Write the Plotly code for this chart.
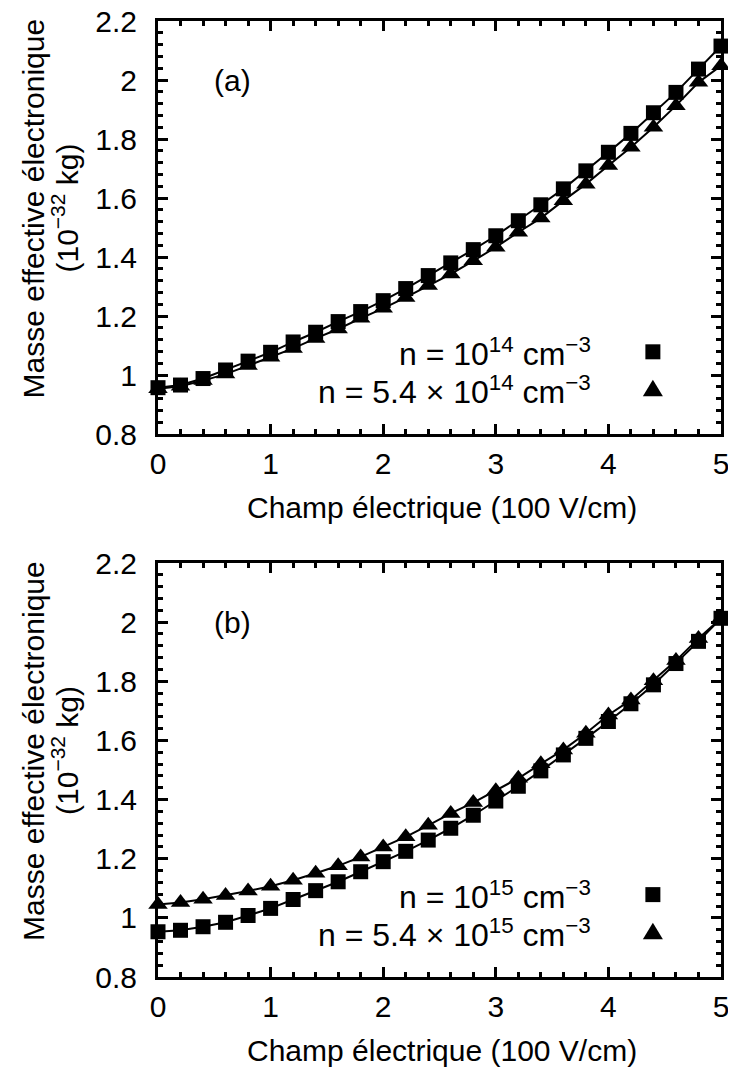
import plotly.graph_objects as go

# ---------------- data ----------------
field = [0.0, 0.2, 0.4, 0.6, 0.8, 1.0, 1.2, 1.4, 1.6, 1.8, 2.0, 2.2, 2.4,
         2.6, 2.8, 3.0, 3.2, 3.4, 3.6, 3.8, 4.0, 4.2, 4.4, 4.6, 4.8, 5.0]

mass_a_n1e14 = [0.957, 0.966, 0.988, 1.017, 1.047, 1.077, 1.112, 1.145, 1.181,
                1.215, 1.252, 1.293, 1.337, 1.380, 1.425, 1.472, 1.523, 1.577,
                1.631, 1.692, 1.755, 1.819, 1.889, 1.958, 2.037, 2.115]
mass_a_n54e14 = [0.953, 0.962, 0.981, 1.003, 1.032, 1.060, 1.090, 1.124, 1.156,
                 1.192, 1.226, 1.263, 1.303, 1.342, 1.387, 1.433, 1.484, 1.532,
                 1.591, 1.647, 1.710, 1.772, 1.840, 1.913, 1.992, 2.048]

mass_b_n1e15 = [0.953, 0.958, 0.970, 0.985, 1.008, 1.032, 1.062, 1.092, 1.122,
                1.156, 1.190, 1.225, 1.263, 1.303, 1.347, 1.395, 1.445, 1.497,
                1.551, 1.607, 1.664, 1.724, 1.788, 1.860, 1.935, 2.013]
mass_b_n54e15 = [1.045, 1.052, 1.063, 1.076, 1.091, 1.107, 1.127, 1.151, 1.176,
                 1.206, 1.240, 1.274, 1.313, 1.353, 1.390, 1.430, 1.472, 1.521,
                 1.568, 1.624, 1.686, 1.737, 1.802, 1.870, 1.945, 2.013]

x_tick_vals = [0, 1, 2, 3, 4, 5]
y_tick_vals = [0.8, 1.0, 1.2, 1.4, 1.6, 1.8, 2.0, 2.2]
y_tick_text = ["0.8", "1", "1.2", "1.4", "1.6", "1.8", "2", "2.2"]

panel_labels = ["(a)", "(b)"]
legend_a = ["n = 10<sup>14</sup> cm<sup>\u22123</sup>",
            "n = 5.4 \u00d7 10<sup>14</sup> cm<sup>\u22123</sup>"]
legend_b = ["n = 10<sup>15</sup> cm<sup>\u22123</sup>",
            "n = 5.4 \u00d7 10<sup>15</sup> cm<sup>\u22123</sup>"]
x_title = "Champ \u00e9lectrique (100 V/cm)"
y_title_1 = "Masse effective \u00e9lectronique"
y_title_2 = "(10<sup>\u221232</sup> kg)"

# ---------------- layout constants ----------------
W, H = 736, 1068
X0, X1 = 150, 713
PANELS = [(13, 426), (555, 969)]   # pixel top / bottom of each frame
FONT = "Liberation Sans, Arial, Helvetica, sans-serif"
FS = 30
FS_LEG = 32

fig = go.Figure()

series = [(mass_a_n1e14, mass_a_n54e14), (mass_b_n1e15, mass_b_n54e15)]
for i, (sq, tr) in enumerate(series):
    xa = "x" if i == 0 else "x2"
    ya = "y" if i == 0 else "y2"
    fig.add_trace(go.Scatter(x=field, y=sq, mode="lines+markers", xaxis=xa, yaxis=ya,
                             line=dict(color="black", width=2),
                             marker=dict(symbol="square", size=15, color="black"),
                             cliponaxis=False, showlegend=False))
    fig.add_trace(go.Scatter(x=field, y=tr, mode="lines+markers", xaxis=xa, yaxis=ya,
                             line=dict(color="black", width=2),
                             marker=dict(symbol="triangle-up", size=17, color="black"),
                             cliponaxis=False, showlegend=False))


def xaxis(anchor):
    return dict(domain=[X0 / W, X1 / W], range=[0, 5], anchor=anchor,
                tickmode="array", tickvals=x_tick_vals,
                ticks="inside", ticklen=10, tickwidth=2.5, tickcolor="black",
                showline=True, linewidth=3, linecolor="black", mirror="ticks",
                showgrid=False, zeroline=False,
                minor=dict(tickmode="linear", tick0=0, dtick=0.2, ticks="inside",
                           ticklen=5, tickwidth=2.5, tickcolor="black", showgrid=False),
                tickfont=dict(size=FS, color="black", family=FONT),
                ticklabelstandoff=1, ticklabeloverflow="allow", automargin=False)


def yaxis(anchor, top, bottom):
    return dict(domain=[1 - bottom / H, 1 - top / H], range=[0.8, 2.2], anchor=anchor,
                tickmode="array", tickvals=y_tick_vals, ticktext=y_tick_text,
                ticks="inside", ticklen=10, tickwidth=2.5, tickcolor="black",
                showline=True, linewidth=3, linecolor="black", mirror="ticks",
                showgrid=False, zeroline=False,
                minor=dict(tickmode="linear", tick0=0.8, dtick=0.04, ticks="inside",
                           ticklen=5, tickwidth=2.5, tickcolor="black", showgrid=False),
                tickfont=dict(size=FS, color="black", family=FONT),
                ticklabelstandoff=12, ticklabeloverflow="allow", automargin=False)


annotations = []
shapes = []
legends = [legend_a, legend_b]
for i in range(2):
    xd = "x domain" if i == 0 else "x2 domain"
    yd = "y domain" if i == 0 else "y2 domain"
    # panel label
    annotations.append(dict(text=panel_labels[i], xref=xd, yref=yd, x=0.132, y=0.857,
                            showarrow=False, xanchor="center", yanchor="middle",
                            font=dict(size=FS, family=FONT, color="black")))
    # legend text
    for j, yy in enumerate([0.199, 0.107]):
        annotations.append(dict(text=legends[i][j], xref=xd, yref=yd, x=0.772, y=yy,
                                showarrow=False, xanchor="right", yanchor="middle",
                                font=dict(size=FS_LEG, family=FONT, color="black")))
    # legend symbols
    shapes.append(dict(type="rect", xref=xd, yref=yd, xsizemode="pixel", ysizemode="pixel",
                       xanchor=0.879, yanchor=0.199, x0=-7.5, x1=7.5, y0=-7.5, y1=7.5,
                       fillcolor="black", line=dict(width=0)))
    shapes.append(dict(type="path", xref=xd, yref=yd, xsizemode="pixel", ysizemode="pixel",
                       xanchor=0.879, yanchor=0.107, path="M-10,-6.5 L10,-6.5 L0,10 Z",
                       fillcolor="black", line=dict(width=0)))
    # axis titles
    annotations.append(dict(text=x_title, xref=xd, yref=yd, x=0.504, y=-0.178,
                            showarrow=False, xanchor="center", yanchor="middle",
                            font=dict(size=FS, family=FONT, color="black")))
    annotations.append(dict(text=y_title_1, xref="paper", yref=yd, x=26 / W, y=0.546,
                            showarrow=False, xanchor="center", yanchor="middle",
                            textangle=-90, font=dict(size=FS, family=FONT, color="black")))
    annotations.append(dict(text=y_title_2, xref="paper", yref=yd, x=57 / W, y=0.546,
                            showarrow=False, xanchor="center", yanchor="middle",
                            textangle=-90, font=dict(size=FS, family=FONT, color="black")))

fig.update_layout(
    width=W, height=H, autosize=False,
    margin=dict(l=0, r=0, t=0, b=0),
    paper_bgcolor="white", plot_bgcolor="white",
    font=dict(family=FONT, size=FS, color="black"),
    xaxis=xaxis("y"), yaxis=yaxis("x", *PANELS[0]),
    xaxis2=xaxis("y2"), yaxis2=yaxis("x2", *PANELS[1]),
    annotations=annotations, shapes=shapes,
    showlegend=False,
)

fig.write_html("out.html")
